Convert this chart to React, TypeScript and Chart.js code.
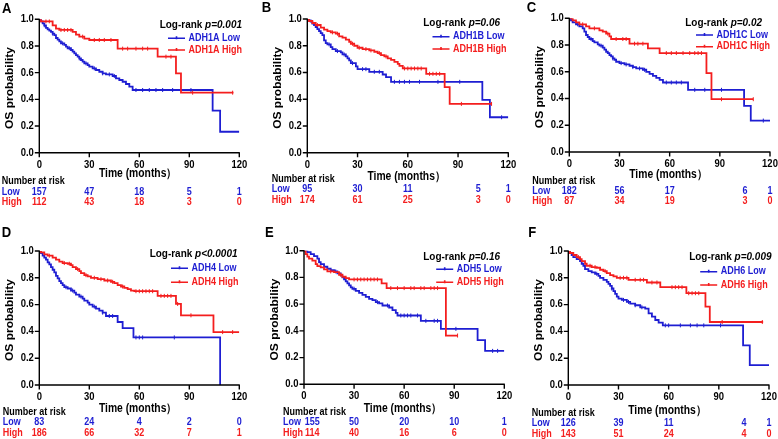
import React, { useEffect, useRef } from 'react';
import { Chart, registerables } from 'chart.js';
Chart.register(...registerables);

type Step = [number, number];

const W = 778;
const H = 439;
const BLUE = '#1e1ed2';
const RED = '#f41e1e';
const FF = '"Liberation Sans", Arial, Helvetica, sans-serif';

const xTicks = [0, 30, 60, 90, 120];
const xTickLabels = ['0', '30', '60', '90', '120'];
const yTicks = [0, 0.2, 0.4, 0.6, 0.8, 1.0];
const yTickLabels = ['0.0', '0.2', '0.4', '0.6', '0.8', '1.0'];
const riskTimes = [0, 30, 60, 90, 120];

const panelLetters = ['A', 'B', 'C', 'D', 'E', 'F'];
const genes = ['ADH1A', 'ADH1B', 'ADH1C', 'ADH4', 'ADH5', 'ADH6'];
const pValues = ['p=0.001', 'p=0.06', 'p=0.02', 'p<0.0001', 'p=0.16', 'p=0.009'];

// ---- Panel A ----
const lowA: Step[] = [[0,1],[1,0.985],[2,0.97],[3,0.955],[4,0.935],[5,0.925],[6,0.915],[7,0.905],[8,0.893],[9,0.882],[10,0.86],[11,0.848],[12,0.835],[13,0.82],[15,0.808],[16,0.795],[17,0.783],[19,0.77],[20,0.757],[21,0.745],[22,0.732],[23,0.72],[24,0.707],[25,0.695],[26,0.682],[27,0.67],[29,0.657],[30,0.645],[32,0.632],[34,0.62],[36,0.607],[38,0.595],[40,0.587],[44,0.575],[46,0.557],[48,0.545],[50,0.532],[52,0.515],[54,0.495],[56,0.47],[104,0.315],[108.5,0.157],[120,0.157]];
const highA: Step[] = [[0,1],[1,0.985],[8,0.955],[10,0.93],[12,0.92],[20,0.905],[22,0.885],[24,0.87],[27,0.855],[30,0.845],[47,0.78],[71,0.72],[82,0.595],[85,0.45],[116.5,0.45]];
const censLowA = [3, 8, 14, 18, 24, 28, 33, 38, 42, 45, 58, 62, 66, 70, 74, 80, 91];
const censHighA = [4, 6, 13, 15, 17, 19, 26, 33, 36, 39, 43, 50, 53, 58, 62, 65, 76, 79, 92, 116];
const riskLowA = [157, 47, 18, 5, 1];
const riskHighA = [112, 43, 18, 3, 0];

// ---- Panel B ----
const lowB: Step[] = [[0,1],[1,0.99],[2,0.98],[3,0.965],[4,0.955],[5,0.94],[6,0.925],[7,0.91],[8,0.895],[9,0.88],[10,0.84],[11,0.82],[12,0.81],[14,0.79],[15,0.775],[17,0.76],[20,0.75],[21,0.735],[23,0.72],[24,0.705],[25,0.69],[26,0.67],[29,0.645],[30,0.625],[37,0.605],[45,0.585],[47,0.565],[50,0.53],[104.5,0.395],[109,0.265],[120,0.265]];
const highB: Step[] = [[0,1],[1,0.985],[3,0.97],[5,0.955],[8,0.935],[10,0.92],[12,0.91],[14,0.9],[17,0.89],[19,0.87],[21,0.86],[23,0.845],[25,0.83],[26,0.815],[28,0.8],[30,0.785],[33,0.775],[37,0.765],[40,0.755],[42,0.745],[44,0.73],[46,0.72],[48,0.705],[50,0.695],[52,0.68],[54,0.665],[55,0.65],[57,0.63],[71,0.59],[82,0.49],[85,0.365],[110,0.365]];
const censLowB = [13, 18, 22, 27, 33, 35, 40, 43, 52, 55, 58, 61, 67, 78, 91, 116];
const censHighB = [6, 15, 18, 27, 31, 35, 38, 43, 47, 58, 60, 62, 64, 66, 68, 73, 75, 77, 79, 92, 110];
const riskLowB = [95, 30, 11, 5, 1];
const riskHighB = [174, 61, 25, 3, 0];

// ---- Panel C ----
const lowC: Step[] = [[0,1],[1,0.985],[2,0.97],[4,0.955],[6,0.94],[8,0.925],[9,0.9],[10,0.875],[11,0.86],[12,0.845],[14,0.83],[15,0.82],[17,0.805],[18,0.795],[20,0.78],[21,0.765],[22,0.75],[23,0.74],[24,0.725],[25,0.715],[26,0.7],[27,0.69],[28,0.675],[30,0.665],[33,0.655],[36,0.645],[38,0.635],[40,0.625],[44,0.615],[46,0.6],[48,0.585],[50,0.57],[52,0.555],[54,0.54],[56,0.52],[71,0.465],[104.5,0.345],[108.5,0.235],[120,0.235]];
const highC: Step[] = [[0,1],[2,0.985],[4,0.97],[6,0.955],[10,0.94],[12,0.925],[18,0.91],[20,0.9],[22,0.885],[24,0.865],[25,0.845],[36,0.81],[47,0.775],[54,0.74],[82,0.59],[85,0.395],[110,0.395]];
const censLowC = [5, 13, 19, 26, 31, 34, 38, 42, 45, 58, 61, 64, 67, 75, 81, 91, 116];
const censHighC = [8, 15, 23, 28, 32, 34, 39, 41, 44, 58, 61, 64, 68, 72, 75, 77, 79, 91, 110];
const riskLowC = [182, 56, 17, 6, 1];
const riskHighC = [87, 34, 19, 3, 0];

// ---- Panel D ----
const lowD: Step[] = [[0,1],[1,0.985],[2,0.965],[3,0.95],[4,0.935],[5,0.915],[6,0.9],[7,0.88],[8,0.86],[9,0.84],[10,0.815],[11,0.795],[12,0.775],[13,0.76],[14,0.745],[15,0.73],[17,0.72],[19,0.705],[21,0.69],[22,0.675],[24,0.66],[26,0.645],[27,0.63],[29,0.615],[30,0.6],[32,0.585],[34,0.57],[36,0.555],[38,0.54],[40,0.515],[47,0.47],[50,0.425],[56.5,0.355],[108.5,0]];
const highD: Step[] = [[0,1],[1,0.99],[3,0.975],[5,0.965],[8,0.95],[10,0.935],[12,0.92],[14,0.91],[17,0.905],[19,0.895],[20,0.88],[22,0.865],[24,0.85],[25,0.835],[27,0.82],[29,0.81],[31,0.8],[35,0.79],[39,0.78],[43,0.77],[45,0.76],[47,0.745],[49,0.735],[51,0.725],[53,0.715],[55,0.705],[57,0.7],[71,0.665],[82,0.605],[85,0.52],[104.5,0.395],[120,0.395]];
const censLowD = [16, 20, 25, 33, 38, 42, 44, 58, 60, 62, 81];
const censHighD = [6, 15, 18, 23, 28, 33, 37, 41, 44, 50, 58, 60, 62, 64, 66, 68, 73, 75, 77, 79, 83, 91, 110, 116];
const riskLowD = [83, 24, 4, 2, 0];
const riskHighD = [186, 66, 32, 7, 1];

// ---- Panel E ----
const lowE: Step[] = [[0,1],[2,0.99],[4,0.975],[6,0.96],[8,0.94],[9,0.915],[10,0.9],[12,0.88],[14,0.865],[16,0.855],[18,0.845],[20,0.83],[22,0.815],[23,0.8],[24,0.785],[25,0.77],[26,0.755],[27,0.74],[28,0.725],[29,0.715],[31,0.7],[33,0.685],[35,0.67],[37,0.655],[39,0.64],[41,0.63],[43,0.615],[45,0.605],[47,0.59],[51,0.575],[53,0.555],[55,0.535],[56,0.515],[70,0.475],[82,0.415],[104,0.33],[108.5,0.25],[120,0.25]];
const highE: Step[] = [[0,1],[1,0.975],[2,0.955],[3,0.94],[5,0.925],[7,0.9],[8,0.885],[10,0.875],[12,0.86],[14,0.845],[18,0.84],[21,0.82],[23,0.805],[25,0.795],[27,0.785],[46.5,0.755],[49.5,0.72],[85,0.365],[92,0.365]];
const censLowE = [19, 30, 44, 50, 58, 60, 62, 64, 68, 73, 78, 80, 91, 113, 116];
const censHighE = [16, 22, 30, 32, 34, 36, 38, 40, 42, 44, 52, 56, 60, 64, 66, 70, 72, 76, 78, 80, 92];
const riskLowE = [155, 50, 20, 10, 1];
const riskHighE = [114, 40, 16, 6, 0];

// ---- Panel F ----
const lowF: Step[] = [[0,1],[1,0.985],[2,0.97],[3,0.955],[5,0.94],[7,0.925],[8,0.905],[9,0.89],[10,0.865],[12,0.85],[14,0.84],[16,0.83],[18,0.815],[19,0.8],[21,0.785],[23,0.77],[24,0.755],[25,0.74],[26,0.72],[27,0.7],[28,0.68],[29,0.66],[30,0.645],[32,0.635],[35,0.62],[37,0.607],[40,0.595],[43,0.58],[46,0.57],[48,0.535],[50,0.51],[52,0.485],[54,0.465],[56.5,0.445],[104.5,0.295],[108.5,0.148],[120,0.148]];
const highF: Step[] = [[0,1],[1,0.985],[3,0.97],[5,0.955],[7,0.94],[8,0.925],[10,0.905],[11,0.89],[14,0.88],[17,0.875],[19,0.86],[21,0.85],[23,0.835],[25,0.82],[27,0.81],[29,0.8],[36,0.785],[47,0.765],[55,0.73],[70.6,0.685],[82,0.585],[84.6,0.47],[116.5,0.47]];
const censLowF = [17, 26, 33, 36, 40, 44, 58, 60, 67, 73, 77, 81, 91];
const censHighF = [6, 13, 16, 22, 31, 33, 35, 40, 43, 45, 50, 53, 62, 64, 66, 68, 72, 74, 76, 78, 92, 116];
const riskLowF = [126, 39, 11, 4, 1];
const riskHighF = [143, 51, 24, 4, 0];

const panelData = [
  { low: lowA, high: highA, lowC: censLowA, highC: censHighA, rLow: riskLowA, rHigh: riskHighA },
  { low: lowB, high: highB, lowC: censLowB, highC: censHighB, rLow: riskLowB, rHigh: riskHighB },
  { low: lowC, high: highC, lowC: censLowC, highC: censHighC, rLow: riskLowC, rHigh: riskHighC },
  { low: lowD, high: highD, lowC: censLowD, highC: censHighD, rLow: riskLowD, rHigh: riskHighD },
  { low: lowE, high: highE, lowC: censLowE, highC: censHighE, rLow: riskLowE, rHigh: riskHighE },
  { low: lowF, high: highF, lowC: censLowF, highC: censHighF, rLow: riskLowF, rHigh: riskHighF },
];

// layout (pixel positions) per panel
const layout = [
  { x0: 39.3, x1: 239.3, y1: 19.3, y0: 152.7, lx: 2, ly: 9, lr: 242, legX: 188.5, legY: [5.7, 19, 30.7], riskX: 1.7, riskY: 181.7, titleDy: 21, col0: 0, col4: 90 },
  { x0: 307.3, x1: 508.3, y1: 19, y0: 152.7, lx: 261.7, ly: 8.3, lr: 500, legX: 453, legY: [4.3, 17.7, 30], riskX: 271.7, riskY: 179.3, titleDy: 24, col0: 0, col4: 102 },
  { x0: 569.3, x1: 770, y1: 18.3, y0: 152, lx: 526.7, ly: 8.3, lr: 762, legX: 716.5, legY: [5, 16.7, 28.4], riskX: 532.3, riskY: 181, titleDy: 23, col0: 0, col4: 105 },
  { x0: 39.3, x1: 239.3, y1: 251, y0: 385, lx: 1.7, ly: 233.3, lr: 237.5, legX: 191.5, legY: [3, 17.3, 31.3], riskX: 2.7, riskY: 412.3, titleDy: 23.3, col0: 0, col4: 90 },
  { x0: 304, x1: 504.3, y1: 250.7, y0: 384.3, lx: 265, ly: 233.3, lr: 500, legX: 456.7, legY: [6, 18.6, 31.6], riskX: 283, riskY: 412.3, titleDy: 24, col0: 5, col4: 90 },
  { x0: 568.3, x1: 769, y1: 251, y0: 385, lx: 528.3, ly: 233.3, lr: 771.5, legX: 720.7, legY: [5.7, 20.7, 34], riskX: 531.7, riskY: 413.3, titleDy: 25.5, col0: 0, col4: 105 },
];

function survAt(steps: Step[], t: number) {
  let v = steps[0][1];
  for (const [x, y] of steps) {
    if (x <= t) v = y;
    else break;
  }
  return v;
}

const SX = 0.9;

function txt(ctx: CanvasRenderingContext2D, s: string, x: number, y: number, align: 'left' | 'right' | 'center', font: string, color: string, sx = SX) {
  ctx.save();
  ctx.font = font;
  ctx.fillStyle = color;
  ctx.textBaseline = 'middle';
  ctx.textAlign = 'left';
  const w = ctx.measureText(s).width * sx;
  const left = align === 'left' ? x : align === 'right' ? x - w : x - w / 2;
  ctx.translate(left, y);
  ctx.scale(sx, 1);
  ctx.fillText(s, 0, 0);
  ctx.restore();
}

function textWidth(ctx: CanvasRenderingContext2D, s: string, font: string, sx = SX) {
  ctx.save();
  ctx.font = font;
  const w = ctx.measureText(s).width * sx;
  ctx.restore();
  return w;
}

function makePlugin(idx: number) {
  return {
    id: 'kmDecor' + idx,
    afterDraw(chart: any) {
      const ctx: CanvasRenderingContext2D = chart.ctx;
      const xs = chart.scales.x;
      const ys = chart.scales.y;
      const Lo = layout[idx];
      const d = panelData[idx];
      const L = xs.getPixelForValue(0);
      const R = xs.getPixelForValue(120);
      const T = ys.getPixelForValue(1);
      const B = ys.getPixelForValue(0);

      // axes
      ctx.save();
      ctx.strokeStyle = '#000';
      ctx.lineWidth = 1.4;
      ctx.beginPath();
      ctx.moveTo(L, T - 0.5);
      ctx.lineTo(L, B);
      ctx.lineTo(R + 0.5, B);
      for (const v of yTicks) {
        const y = ys.getPixelForValue(v);
        ctx.moveTo(L - 4.5, y);
        ctx.lineTo(L, y);
      }
      for (const v of xTicks) {
        const x = xs.getPixelForValue(v);
        ctx.moveTo(x, B);
        ctx.lineTo(x, B + 4.5);
      }
      ctx.stroke();
      ctx.restore();

      const tickFont = `bold 10.5px ${FF}`;
      yTicks.forEach((v, i) => txt(ctx, yTickLabels[i], L - 5.5, ys.getPixelForValue(v), 'right', tickFont, '#000'));
      xTicks.forEach((v, i) => txt(ctx, xTickLabels[i], xs.getPixelForValue(v), B + 12.2, 'center', tickFont, '#000'));

      // axis titles
      txt(ctx, 'Time (months）', (L + R) / 2 - 1.5, B + Lo.titleDy, 'center', `bold 12px ${FF}`, '#000', 0.86);
      ctx.save();
      ctx.font = `bold 12px ${FF}`;
      ctx.fillStyle = '#000';
      ctx.textAlign = 'center';
      ctx.textBaseline = 'middle';
      ctx.translate(L - 29, (T + B) / 2 + 2);
      ctx.rotate(-Math.PI / 2);
      ctx.scale(1, SX);
      ctx.fillText('OS probability', 0, 0);
      ctx.restore();

      // panel letter
      txt(ctx, panelLetters[idx], Lo.lx, Lo.ly, 'left', `bold 14.5px ${FF}`, '#000');

      // log-rank
      const lrFont = `bold 10.5px ${FF}`;
      const pFont = `italic bold 10.5px ${FF}`;
      const pw = textWidth(ctx, pValues[idx], pFont, 0.95);
      txt(ctx, pValues[idx], Lo.lr, T + Lo.legY[0], 'right', pFont, '#000', 0.95);
      txt(ctx, 'Log-rank ', Lo.lr - pw, T + Lo.legY[0], 'right', lrFont, '#000', 0.95);

      // legend
      const legFont = `bold 10px ${FF}`;
      const items: [string, string, number][] = [
        [genes[idx] + ' Low', BLUE, Lo.legY[1]],
        [genes[idx] + ' High', RED, Lo.legY[2]],
      ];
      for (const [label, color, dy] of items) {
        const y = T + dy;
        ctx.save();
        ctx.strokeStyle = color;
        ctx.lineWidth = 1.6;
        ctx.beginPath();
        ctx.moveTo(Lo.legX - 20.5, y);
        ctx.lineTo(Lo.legX - 3.5, y);
        const mx = Lo.legX - 12;
        ctx.moveTo(mx, y - 2);
        ctx.lineTo(mx, y + 1);
        ctx.stroke();
        ctx.restore();
        txt(ctx, label, Lo.legX, y, 'left', legFont, color);
      }

      // number at risk
      const rFont = `bold 10px ${FF}`;
      txt(ctx, 'Number at risk', Lo.riskX, Lo.riskY, 'left', rFont, '#000');
      txt(ctx, 'Low', Lo.riskX, Lo.riskY + 10.4, 'left', rFont, BLUE);
      txt(ctx, 'High', Lo.riskX, Lo.riskY + 20.5, 'left', rFont, RED);
      riskTimes.forEach((t, i) => {
        const tt = i === 3 ? Lo.col4 : i === 0 ? Lo.col0 : t;
        const x = xs.getPixelForValue(tt);
        txt(ctx, String(d.rLow[i]), x, Lo.riskY + 10.4, 'center', rFont, BLUE);
        txt(ctx, String(d.rHigh[i]), x, Lo.riskY + 20.5, 'center', rFont, RED);
      });
    },
  };
}

function Panel({ idx }: { idx: number }) {
  const ref = useRef<HTMLCanvasElement>(null);
  useEffect(() => {
    const Lo = layout[idx];
    const d = panelData[idx];
    const toPts = (s: Step[]) => s.map(([x, y]) => ({ x, y }));
    const cens = (s: Step[], c: number[]) => c.map((t) => ({ x: t, y: survAt(s, t) }));
    const curve = (data: any[], color: string) => ({
      data,
      borderColor: color,
      borderWidth: 1.8,
      stepped: true,
      pointRadius: 0,
      fill: false,
      tension: 0,
    });
    const marks = (data: any[], color: string) => ({
      data,
      showLine: false,
      pointStyle: 'line',
      pointRotation: 90,
      pointRadius: 2,
      pointBorderWidth: 1,
      pointBorderColor: color,
      pointBackgroundColor: color,
      borderColor: color,
    });
    const chart = new Chart(ref.current as HTMLCanvasElement, {
      type: 'line',
      data: {
        datasets: [
          curve(toPts(d.high), RED),
          marks(cens(d.high, d.highC), RED),
          curve(toPts(d.low), BLUE),
          marks(cens(d.low, d.lowC), BLUE),
        ] as any,
      },
      options: {
        animation: false,
        responsive: false,
        events: [],
        layout: { padding: { left: Lo.x0, right: W - Lo.x1, top: Lo.y1, bottom: H - Lo.y0 } },
        scales: {
          x: { type: 'linear', min: 0, max: 120, display: false },
          y: { type: 'linear', min: 0, max: 1, display: false },
        },
        plugins: { legend: { display: false }, tooltip: { enabled: false } },
      } as any,
      plugins: [makePlugin(idx)],
    });
    return () => chart.destroy();
  }, [idx]);
  return (
    <canvas
      ref={ref}
      width={W}
      height={H}
      style={{ position: 'absolute', left: 0, top: 0, width: W, height: H }}
    />
  );
}

export default function App() {
  return (
    <div style={{ position: 'absolute', left: 0, top: 0, width: W, height: H, background: '#fff', overflow: 'hidden' }}>
      {[0, 1, 2, 3, 4, 5].map((i) => (
        <Panel key={i} idx={i} />
      ))}
    </div>
  );
}
